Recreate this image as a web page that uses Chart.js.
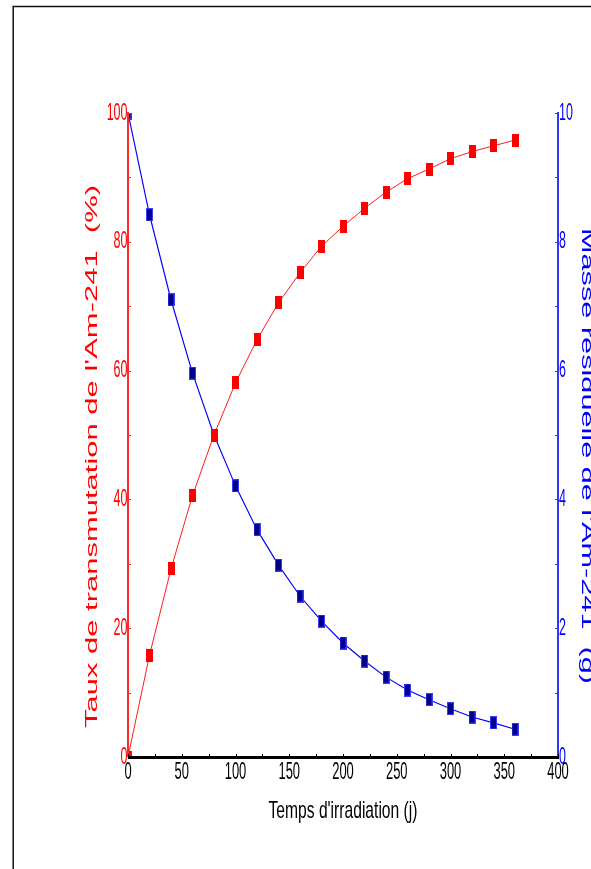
<!DOCTYPE html>
<html>
<head>
<meta charset="utf-8">
<script src="https://cdn.jsdelivr.net/npm/chart.js@4.4.0/dist/chart.umd.min.js"></script>
<style>
html,body{margin:0;padding:0;background:#fff;}
canvas{display:block;}
</style>
</head>
<body>
<canvas id="c" width="591" height="869" style="width:591px;height:869px"></canvas>
<script>
// ---- data ----
const days = [0,20,40,60,80,100,120,140,160,180,200,220,240,260,280,300,320,340,360];
const transmutation = [0,15.8,29.2,40.6,50.0,58.1,64.8,70.5,75.2,79.3,82.4,85.2,87.7,89.8,91.3,92.9,94.0,94.9,95.8];
const residualMass = [10,8.42,7.10,5.96,5.00,4.21,3.53,2.98,2.50,2.11,1.77,1.49,1.24,1.04,0.89,0.75,0.62,0.53,0.43];
const xTicks = [0,50,100,150,200,250,300,350,400];
const leftTicks = [0,20,40,60,80,100];
const rightTicks = [0,2,4,6,8,10];
const xTitle = "Temps d'irradiation (j)";
const leftTitle = "Taux de transmutation de l'Am-241  (%)";
const rightTitle = "Masse résiduelle de l'Am-241  (g)";

function marker(fill, stroke){
  const c = document.createElement('canvas');
  c.width = 7; c.height = 13;
  const g = c.getContext('2d');
  g.fillStyle = fill; g.fillRect(0,0,7,13);
  if (stroke){ g.strokeStyle = stroke; g.lineWidth = 1; g.strokeRect(0.5,0.5,6,12); }
  return c;
}
const redMarker = marker('#ff0000', null);
const blueMarker = marker('#00008c', '#3a3aff');

const FONT = '"Liberation Sans", Arial, sans-serif';

function scaledText(ctx, text, x, y, size, sx, align, color, rot){
  ctx.save();
  ctx.translate(x, y);
  if (rot) ctx.rotate(rot);
  ctx.scale(sx, 1);
  ctx.font = size + 'px ' + FONT;
  ctx.fillStyle = color;
  ctx.textAlign = align;
  ctx.textBaseline = 'alphabetic';
  ctx.fillText(text, 0, 0);
  ctx.restore();
}
function fitText(ctx, text, x, y, size, len, align, color, rot){
  ctx.save();
  ctx.font = size + 'px ' + FONT;
  const w = ctx.measureText(text).width;
  ctx.restore();
  scaledText(ctx, text, x, y, size, len / w, align, color, rot);
}

const decor = {
  id: 'decor',
  beforeDraw(chart){
    const ctx = chart.ctx;
    ctx.save();
    ctx.strokeStyle = '#111';
    ctx.lineWidth = 1.5;
    ctx.beginPath();
    ctx.moveTo(591, 6.5); ctx.lineTo(13.2, 6.5); ctx.lineTo(13.2, 869);
    ctx.stroke();
    ctx.restore();
  },
  afterDatasetsDraw(chart){
    const ctx = chart.ctx;
    const xs = chart.scales.x, yl = chart.scales.y, yr = chart.scales.y1;
    const a = chart.chartArea;
    ctx.save();
    // left axis
    ctx.strokeStyle = '#ff2a2a'; ctx.lineWidth = 2;
    ctx.beginPath(); ctx.moveTo(a.left, a.top - 1); ctx.lineTo(a.left, a.bottom); ctx.stroke();
    ctx.lineWidth = 1;
    for (let v = 0; v <= 100; v += 10){
      const py = Math.round(yl.getPixelForValue(v)) + 0.5;
      ctx.beginPath(); ctx.moveTo(a.left, py); ctx.lineTo(a.left + 3, py); ctx.stroke();
    }
    // right axis
    ctx.strokeStyle = '#3333ff'; ctx.lineWidth = 2;
    ctx.beginPath(); ctx.moveTo(a.right, a.top - 1); ctx.lineTo(a.right, a.bottom); ctx.stroke();
    ctx.lineWidth = 1;
    for (let v = 0; v <= 10; v += 1){
      const py = Math.round(yr.getPixelForValue(v)) + 0.5;
      ctx.beginPath(); ctx.moveTo(a.right, py); ctx.lineTo(a.right - 3, py); ctx.stroke();
    }
    // bottom axis
    ctx.strokeStyle = '#000'; ctx.lineWidth = 3;
    ctx.beginPath(); ctx.moveTo(a.left, a.bottom + 0.5); ctx.lineTo(a.right + 1, a.bottom + 0.5); ctx.stroke();
    ctx.lineWidth = 1;
    for (let v = 0; v <= 400; v += 25){
      const px = Math.round(xs.getPixelForValue(v)) + 0.5;
      ctx.beginPath(); ctx.moveTo(px, a.bottom); ctx.lineTo(px, a.bottom - 3); ctx.stroke();
    }
    ctx.restore();

    // tick labels
    leftTicks.forEach(v => {
      scaledText(ctx, String(v), a.left - 0.5, yl.getPixelForValue(v) + 6.5, 24, 0.52, 'right', '#ff0000');
    });
    rightTicks.forEach(v => {
      scaledText(ctx, String(v), a.right + 1, yr.getPixelForValue(v) + 6.5, 24, 0.52, 'left', '#0000ff');
    });
    xTicks.forEach(v => {
      scaledText(ctx, String(v), xs.getPixelForValue(v), a.bottom + 22, 24, 0.54, 'center', '#000000');
    });

    // axis titles
    fitText(ctx, xTitle, (a.left + a.right) / 2, 818, 24, 149, 'center', '#000000');
    fitText(ctx, leftTitle, 97, 456.5, 16.8, 543, 'center', '#ff0000', -Math.PI / 2);
    fitText(ctx, rightTitle, 582, 456, 16.8, 456, 'center', '#0000ff', Math.PI / 2);
  }
};

new Chart(document.getElementById('c'), {
  type: 'line',
  data: {
    labels: days,
    datasets: [
      {
        label: 'Taux de transmutation',
        data: days.map((d, i) => ({x: d, y: transmutation[i]})),
        yAxisID: 'y',
        borderColor: '#ff0000',
        borderWidth: 0.9,
        pointStyle: redMarker,
        pointRadius: 4,
        tension: 0,
        fill: false
      },
      {
        label: 'Masse résiduelle',
        data: days.map((d, i) => ({x: d, y: residualMass[i]})),
        yAxisID: 'y1',
        borderColor: '#0000ff',
        borderWidth: 1.15,
        pointStyle: blueMarker,
        pointRadius: 4,
        tension: 0,
        fill: false
      }
    ]
  },
  options: {
    responsive: false,
    devicePixelRatio: 1,
    animation: false,
    events: [],
    layout: { padding: { left: 128, right: 33, top: 113, bottom: 112 } },
    plugins: { legend: { display: false }, title: { display: false }, tooltip: { enabled: false } },
    scales: {
      x: { type: 'linear', min: 0, max: 400, display: false },
      y: { type: 'linear', position: 'left', min: 0, max: 100, display: false },
      y1: { type: 'linear', position: 'right', min: 0, max: 10, display: false }
    }
  },
  plugins: [decor]
});
</script>
</body>
</html>
